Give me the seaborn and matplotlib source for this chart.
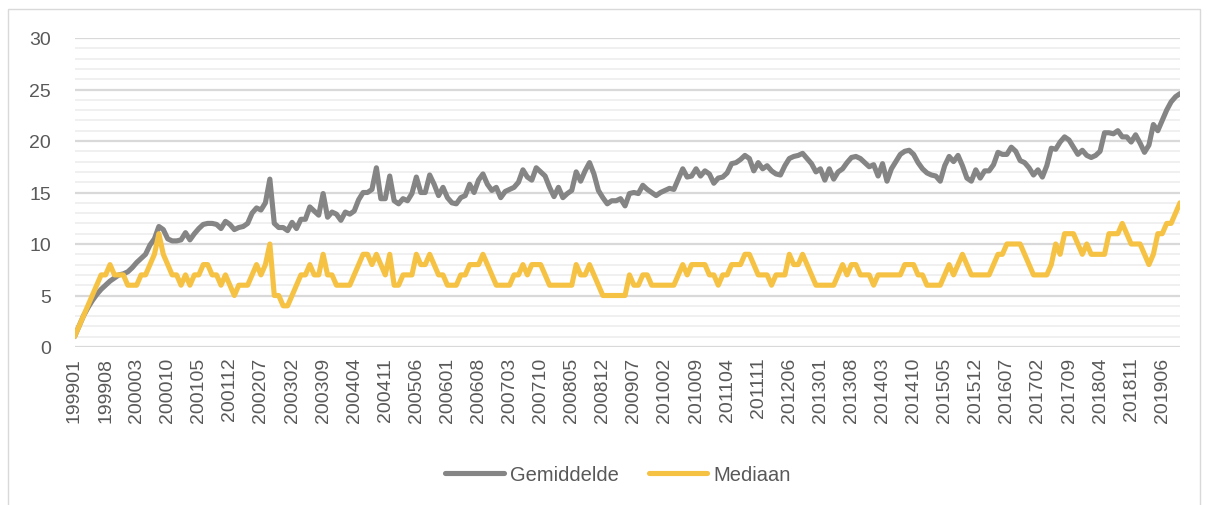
import numpy as np
import pandas as pd
import matplotlib
matplotlib.use("Agg")
import matplotlib.pyplot as plt
from matplotlib.patches import Rectangle
from matplotlib.ticker import MultipleLocator
import seaborn as sns

# Monthly values, 199901 .. 201910
gemiddelde = [
    1.0, 2.0, 3.0, 3.8, 4.5, 5.1, 5.6, 6.0, 6.4, 6.7,
    7.0, 7.1, 7.3, 7.7, 8.2, 8.6, 9.0, 9.9, 10.5, 11.7,
    11.4, 10.5, 10.3, 10.3, 10.4, 11.1, 10.4, 11.0, 11.5, 11.9,
    12.0, 12.0, 11.9, 11.5, 12.2, 11.9, 11.4, 11.6, 11.7, 12.0,
    13.0, 13.5, 13.3, 14.0, 16.3, 12.0, 11.6, 11.6, 11.3, 12.1,
    11.5, 12.4, 12.4, 13.6, 13.2, 12.8, 14.9, 12.6, 13.1, 12.9,
    12.3, 13.1, 12.9, 13.2, 14.3, 15.0, 15.0, 15.3, 17.4, 14.4,
    14.4, 16.6, 14.2, 13.9, 14.4, 14.2, 14.9, 16.5, 15.0, 15.0,
    16.7, 15.8, 14.7, 15.5, 14.5, 14.0, 13.9, 14.5, 14.7, 15.8,
    15.0, 16.2, 16.8, 15.8, 15.2, 15.5, 14.5, 15.1, 15.3, 15.5,
    16.0, 17.2, 16.5, 16.2, 17.4, 17.0, 16.6, 15.5, 14.6, 15.5,
    14.5, 14.9, 15.2, 17.0, 16.1, 17.1, 17.9, 16.8, 15.2, 14.5,
    13.9, 14.2, 14.2, 14.4, 13.7, 14.9, 15.0, 14.9, 15.7, 15.3,
    15.0, 14.7, 15.0, 15.2, 15.4, 15.3, 16.3, 17.3, 16.5, 16.6,
    17.3, 16.6, 17.1, 16.8, 15.9, 16.4, 16.5, 16.9, 17.8, 17.9,
    18.2, 18.6, 18.3, 17.1, 17.9, 17.3, 17.6, 17.1, 16.8, 16.7,
    17.6, 18.3, 18.5, 18.6, 18.8, 18.3, 17.8, 17.0, 17.3, 16.2,
    17.3, 16.3, 17.0, 17.3, 17.9, 18.4, 18.5, 18.3, 17.9, 17.5,
    17.7, 16.6, 17.8, 16.1, 17.3, 18.0, 18.7, 19.0, 19.1, 18.7,
    17.9, 17.3, 16.9, 16.7, 16.6, 16.1, 17.6, 18.5, 18.0, 18.6,
    17.6, 16.4, 16.1, 17.2, 16.4, 17.1, 17.1, 17.7, 18.9, 18.7,
    18.7, 19.4, 19.0, 18.1, 17.9, 17.4, 16.7, 17.2, 16.5, 17.6,
    19.3, 19.2, 19.9, 20.4, 20.1, 19.4, 18.7, 19.1, 18.6, 18.4,
    18.6, 19.0, 20.8, 20.8, 20.7, 21.0, 20.4, 20.4, 19.9, 20.6,
    19.8, 18.9, 19.6, 21.6, 21.0, 22.0, 23.0, 23.8, 24.3, 24.6,
]

mediaan = [
    1, 2, 3, 4, 5, 6, 7, 7, 8, 7,
    7, 7, 6, 6, 6, 7, 7, 8, 9, 11,
    9, 8, 7, 7, 6, 7, 6, 7, 7, 8,
    8, 7, 7, 6, 7, 6, 5, 6, 6, 6,
    7, 8, 7, 8, 10, 5, 5, 4, 4, 5,
    6, 7, 7, 8, 7, 7, 9, 7, 7, 6,
    6, 6, 6, 7, 8, 9, 9, 8, 9, 8,
    7, 9, 6, 6, 7, 7, 7, 9, 8, 8,
    9, 8, 7, 7, 6, 6, 6, 7, 7, 8,
    8, 8, 9, 8, 7, 6, 6, 6, 6, 7,
    7, 8, 7, 8, 8, 8, 7, 6, 6, 6,
    6, 6, 6, 8, 7, 7, 8, 7, 6, 5,
    5, 5, 5, 5, 5, 7, 6, 6, 7, 7,
    6, 6, 6, 6, 6, 6, 7, 8, 7, 8,
    8, 8, 8, 7, 7, 6, 7, 7, 8, 8,
    8, 9, 9, 8, 7, 7, 7, 6, 7, 7,
    7, 9, 8, 8, 9, 8, 7, 6, 6, 6,
    6, 6, 7, 8, 7, 8, 8, 7, 7, 7,
    6, 7, 7, 7, 7, 7, 7, 8, 8, 8,
    7, 7, 6, 6, 6, 6, 7, 8, 7, 8,
    9, 8, 7, 7, 7, 7, 7, 8, 9, 9,
    10, 10, 10, 10, 9, 8, 7, 7, 7, 7,
    8, 10, 9, 11, 11, 11, 10, 9, 10, 9,
    9, 9, 9, 11, 11, 11, 12, 11, 10, 10,
    10, 9, 8, 9, 11, 11, 12, 12, 13, 14,
]

series_names = ["Gemiddelde", "Mediaan"]
series_colors = ["#858585", "#F6C244"]

maanden = pd.period_range("1999-01", periods=len(gemiddelde), freq="M").strftime("%Y%m").tolist()

df = pd.DataFrame({"maand": maanden, "Gemiddelde": gemiddelde, "Mediaan": mediaan})
long_df = df.melt(id_vars="maand", var_name="reeks", value_name="waarde")

sns.set_style("white")
plt.rcParams["font.family"] = ["Liberation Sans", "DejaVu Sans"]
text_color = "#595959"

W, H = 1208, 506
fig = plt.figure(figsize=(W / 100, H / 100), dpi=100)
ax = fig.add_axes([74.5 / W, 1 - 348 / H, (1180 - 74.5) / W, (348 - 39) / H])

sns.lineplot(data=long_df, x="maand", y="waarde", hue="reeks", hue_order=series_names,
             palette=series_colors, linewidth=3.7, sort=False, ax=ax,
             solid_joinstyle="round", solid_capstyle="round")

ax.set_xlim(0, len(maanden) - 1)
ax.set_ylim(0, 30)
ax.yaxis.set_major_locator(MultipleLocator(5))
ax.yaxis.set_minor_locator(MultipleLocator(1))
ax.grid(which="major", axis="y", color="#D9D9D9", linewidth=1.6)
ax.grid(which="minor", axis="y", color="#F0F0F0", linewidth=1.4)
ax.set_axisbelow(True)
for side in ["top", "right", "left", "bottom"]:
    ax.spines[side].set_visible(False)

# every 7th month gets a label, like the original category axis
tick_pos = list(range(0, len(maanden), 7))
ax.set_xticks(tick_pos)
ax.set_xticklabels([maanden[i] for i in tick_pos], rotation=90)
ax.tick_params(axis="x", length=0, pad=7, labelsize=14, labelcolor=text_color)
ax.tick_params(axis="y", which="both", length=0, pad=17, labelsize=14, labelcolor=text_color)
ax.set_xlabel("")
ax.set_ylabel("")

handles, labels = ax.get_legend_handles_labels()
ax.get_legend().remove()
leg = fig.legend(handles, labels, loc="center", bbox_to_anchor=(618 / W, 1 - 476 / H),
                 ncol=2, frameon=False, handlelength=2.9, handletextpad=0.3,
                 columnspacing=1.5, fontsize=14.5, labelcolor=text_color)
for line in leg.get_lines():
    line.set_solid_capstyle("round")

# chart border (left and top visible, runs off the bottom)
fig.patches.append(Rectangle((8 / W, -0.05), (1200 - 8) / W, 1.05 - 10 / H,
                             transform=fig.transFigure, fill=False,
                             edgecolor="#D9D9D9", linewidth=1))

fig.savefig("out.png", dpi=100)
